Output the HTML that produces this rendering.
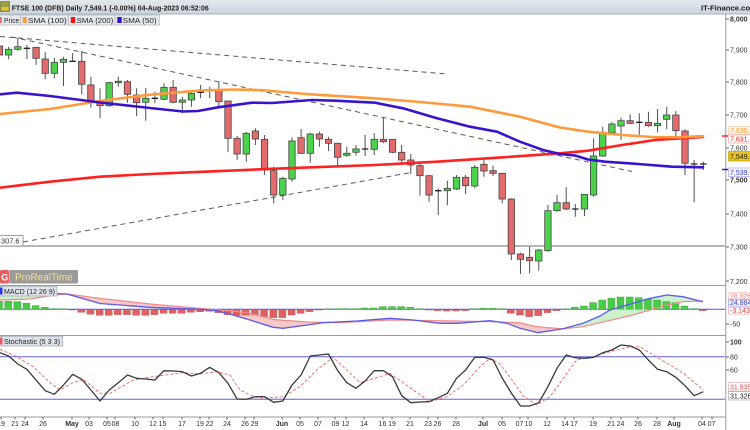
<!DOCTYPE html>
<html><head><meta charset="utf-8"><style>
html,body{margin:0;padding:0;background:#fff}
svg{display:block}
text{font-family:"Liberation Sans",sans-serif}
</style></head><body>
<svg width="750" height="430" viewBox="0 0 750 430" xmlns="http://www.w3.org/2000/svg">
<defs>
<linearGradient id="hg" x1="0" y1="0" x2="0" y2="1"><stop offset="0" stop-color="#e3e8ed"/><stop offset="1" stop-color="#cdd5dd"/></linearGradient>
<clipPath id="plot"><rect x="0" y="14" width="725.5" height="403"/></clipPath>
</defs>
<rect width="750" height="430" fill="#fff"/>

<!-- header -->
<rect x="0" y="0" width="750" height="14" fill="url(#hg)"/>
<line x1="0" y1="14" x2="750" y2="14" stroke="#a9b2bb" stroke-width="1"/>
<rect x="0.5" y="1.5" width="9" height="10" fill="#9aa040" stroke="#6a6a20" stroke-width="0.6"/>
<rect x="1.5" y="7" width="7" height="3.5" fill="#e8c030"/>
<text x="11.7" y="10.3" font-size="7.6" font-weight="bold" fill="#1c1c1c" textLength="197" lengthAdjust="spacingAndGlyphs">FTSE 100 (DFB) Daily 7,549.1 (-0.00%) 04-Aug-2023 06:52:06</text>
<text x="701" y="10.3" font-size="7.6" font-weight="bold" fill="#1c1c1c" textLength="56" lengthAdjust="spacingAndGlyphs">IT-Finance.com</text>

<!-- legend -->
<g stroke="#b4bcc4" stroke-width="0.8" fill="#e6eaee">
<rect x="-2" y="15" width="22.7" height="10"/>
<rect x="20.7" y="15" width="47.6" height="10"/>
<rect x="68.3" y="15" width="46.7" height="10"/>
<rect x="115" y="15" width="44.3" height="10"/>
</g>
<rect x="-2" y="17" width="3.7" height="6" fill="#e36b6b"/>
<rect x="22.7" y="17" width="4" height="6" fill="#ff9933"/>
<rect x="70.8" y="17" width="4.3" height="6" fill="#ff1010"/>
<rect x="117.3" y="17" width="4.4" height="6" fill="#3311cc"/>
<g font-size="7.6" fill="#222">
<text x="4" y="22.8" textLength="15.3" lengthAdjust="spacingAndGlyphs">Price</text>
<text x="28" y="22.8" textLength="38.7" lengthAdjust="spacingAndGlyphs">SMA (100)</text>
<text x="76.7" y="22.8" textLength="36.6" lengthAdjust="spacingAndGlyphs">SMA (200)</text>
<text x="122.7" y="22.8" textLength="34" lengthAdjust="spacingAndGlyphs">SMA (50)</text>
</g>

<g clip-path="url(#plot)">
<!-- support line -->
<line x1="0" y1="246" x2="725" y2="246" stroke="#8a8a8a" stroke-width="1.2"/>
<rect x="-1" y="235.5" width="24" height="10.5" fill="#fff" stroke="#888" stroke-width="0.8"/>
<text x="1" y="243.6" font-size="7.4" fill="#333">307.6</text>

<!-- dashed trend lines -->
<g stroke="#5a5a5a" stroke-width="1" stroke-dasharray="5,4" fill="none">
<line x1="0" y1="36.5" x2="447" y2="74"/>
<line x1="12" y1="37" x2="632" y2="171.5"/>
<line x1="23" y1="242" x2="412" y2="172.4"/>
</g>

<!-- wicks -->
<path fill="none" stroke="#505050" stroke-width="1" d="M-0.5 43V58 M8.64 46.7V59.3 M17.78 38.3V50.7 M26.92 45V59.3 M36.06 47.3V65 M45.2 52.3V79.3 M54.34 57.7V78.3 M63.48 56.7V86 M72.62 53.3V62 M81.76 51V94.3 M90.9 76.7V107.7 M100.04 88.3V118.3 M109.18 81.7V106.7 M118.32 76.7V86.7 M127.46 80V102.7 M136.6 88.3V116 M145.74 87.7V120.7 M154.88 91.7V103.3 M164.02 83.3V100 M173.16 80V103.3 M182.3 96.7V113.3 M191.44 90V106.7 M200.58 85V98.3 M209.72 86.7V98.3 M218.86 81.7V106.7 M228 101V151.7 M237.14 136V160 M246.28 131.7V161.7 M255.42 128.3V145 M264.56 135V175 M273.7 166.7V203.3 M282.84 176.7V200 M291.98 137.3V181.7 M301.12 129V154 M310.26 132.7V162.7 M319.4 131.7V146.7 M328.54 136.7V151 M337.68 142.7V166 M346.82 146.7V156.7 M355.96 145V155.7 M365.1 135V156 M374.24 133.3V155 M383.38 117.3V143.3 M392.52 139.3V153.3 M401.66 145V162.7 M410.8 154V174 M419.94 164V195.7 M429.08 175V201.7 M438.22 188.3V215 M447.36 180.7V205 M456.5 175V190 M465.64 175V194.3 M474.78 165V188.3 M483.92 160V176.7 M493.06 165.7V176 M502.2 172.7V203.3 M511.34 198.3V260 M520.48 252.7V274 M529.62 246.7V273.3 M538.76 249.3V270.7 M547.9 205V251.7 M557.04 195V211.7 M566.18 187.3V210 M575.32 204V216.7 M584.46 194V216 M593.6 138.3V196.7 M602.74 126.7V156.7 M611.88 122.3V134.3 M621.02 117.7V140 M630.16 114.3V124.3 M639.3 113.3V136 M648.44 111.7V126.7 M657.58 109V132.3 M666.72 106.7V129.3 M675.86 111V136.7 M685 129.3V175 M694.14 160V202.3 M703.28 161.7V170"/>

<!-- red bodies -->
<g fill="#e36b6b" stroke="#444" stroke-width="0.8">
<rect x="-3.7" y="46" width="6.4" height="9"/>
<rect x="32.86" y="47.3" width="6.4" height="11"/>
<rect x="42" y="59" width="6.4" height="14.3"/>
<rect x="78.56" y="61.3" width="6.4" height="23"/>
<rect x="87.7" y="85" width="6.4" height="16"/>
<rect x="96.84" y="100.7" width="6.4" height="5"/>
<rect x="124.26" y="81.7" width="6.4" height="12.6"/>
<rect x="133.4" y="95" width="6.4" height="7.7"/>
<rect x="169.96" y="87.3" width="6.4" height="15"/>
<rect x="215.66" y="90" width="6.4" height="11.7"/>
<rect x="224.8" y="101" width="6.4" height="37.3"/>
<rect x="233.94" y="138.3" width="6.4" height="15.7"/>
<rect x="252.22" y="131" width="6.4" height="8"/>
<rect x="261.36" y="139.3" width="6.4" height="30.7"/>
<rect x="270.5" y="170.7" width="6.4" height="24.3"/>
<rect x="297.92" y="137.7" width="6.4" height="15.6"/>
<rect x="316.2" y="134" width="6.4" height="5"/>
<rect x="325.34" y="139.3" width="6.4" height="4"/>
<rect x="334.48" y="143.3" width="6.4" height="14"/>
<rect x="380.18" y="139.3" width="6.4" height="2.4"/>
<rect x="389.32" y="139.3" width="6.4" height="13"/>
<rect x="398.46" y="152.3" width="6.4" height="7.7"/>
<rect x="407.6" y="160" width="6.4" height="5"/>
<rect x="416.74" y="165.7" width="6.4" height="10"/>
<rect x="425.88" y="175.7" width="6.4" height="19.3"/>
<rect x="462.44" y="177.3" width="6.4" height="8.4"/>
<rect x="480.72" y="164.3" width="6.4" height="6.7"/>
<rect x="489.86" y="170.7" width="6.4" height="2.6"/>
<rect x="499" y="173.3" width="6.4" height="25.7"/>
<rect x="508.14" y="199" width="6.4" height="55"/>
<rect x="517.28" y="254" width="6.4" height="5.3"/>
<rect x="526.42" y="257.3" width="6.4" height="3.4"/>
<rect x="562.98" y="202.7" width="6.4" height="6.3"/>
<rect x="626.96" y="120.7" width="6.4" height="2.6"/>
<rect x="645.24" y="122.3" width="6.4" height="3.4"/>
<rect x="672.66" y="115" width="6.4" height="15.7"/>
<rect x="681.8" y="131" width="6.4" height="32.3"/>
</g>
<!-- green bodies -->
<g fill="#4dd24d" stroke="#444" stroke-width="0.8">
<rect x="5.44" y="49.3" width="6.4" height="5.7"/>
<rect x="14.58" y="46.7" width="6.4" height="2.6"/>
<rect x="51.14" y="62.3" width="6.4" height="11"/>
<rect x="60.28" y="59.3" width="6.4" height="3"/>
<rect x="105.98" y="82.7" width="6.4" height="23"/>
<rect x="115.12" y="81.2" width="6.4" height="1.5"/>
<rect x="142.54" y="98.3" width="6.4" height="4"/>
<rect x="160.82" y="87.3" width="6.4" height="12"/>
<rect x="179.1" y="100" width="6.4" height="2.3"/>
<rect x="188.24" y="93.3" width="6.4" height="6.7"/>
<rect x="243.08" y="133.3" width="6.4" height="20.7"/>
<rect x="279.64" y="178.3" width="6.4" height="16.7"/>
<rect x="288.78" y="141" width="6.4" height="38"/>
<rect x="307.06" y="134" width="6.4" height="19.3"/>
<rect x="343.62" y="153.3" width="6.4" height="2"/>
<rect x="352.76" y="149" width="6.4" height="3.3"/>
<rect x="371.04" y="139.3" width="6.4" height="10"/>
<rect x="444.16" y="188.3" width="6.4" height="2.4"/>
<rect x="453.3" y="177.3" width="6.4" height="11.7"/>
<rect x="471.58" y="167.3" width="6.4" height="18.7"/>
<rect x="535.56" y="250" width="6.4" height="11"/>
<rect x="544.7" y="210.7" width="6.4" height="40"/>
<rect x="553.84" y="202.7" width="6.4" height="8"/>
<rect x="581.26" y="194.3" width="6.4" height="14.7"/>
<rect x="590.4" y="156" width="6.4" height="39"/>
<rect x="599.54" y="132.3" width="6.4" height="23.7"/>
<rect x="608.68" y="124" width="6.4" height="8.7"/>
<rect x="617.82" y="120.7" width="6.4" height="5.3"/>
<rect x="654.38" y="123.3" width="6.4" height="2.4"/>
<rect x="663.52" y="115" width="6.4" height="4.3"/>
</g>
<!-- dojis -->
<path fill="none" stroke="#222" stroke-width="1.3" d="M23.72 48.3H30.12 M69.42 61.3H75.82 M151.68 98.3H158.08 M197.38 92.3H203.78 M206.52 90.7H212.92 M361.9 149H368.3 M435.02 190.7H441.42 M572.12 209H578.52 M636.1 122.3H642.5 M690.94 164H697.34 M700.08 164H706.48"/>

<!-- SMAs -->
<g fill="none" stroke-width="2.6" stroke-linejoin="round" stroke-linecap="round">
<polyline stroke="#ff2020" points="0,187.7 50,181.7 100,176.7 150,174 190,172.3 285,168.3 375,165 437,161.7 503,157.3 560,153.3 588,150.7 622,145 655,140 703,137"/>
<polyline stroke="#ff9a3c" points="0,114 50,109 100,101 150,94.7 200,90.5 235,89.5 260,90 300,93.5 318,94.8 375,98.3 420,102 470,106.7 520,116.7 560,127.5 588,131.7 622,135 655,137.2 680,137.2 703,136.2"/>
<polyline stroke="#3a14cc" points="0,94.3 17,92.7 50,96 100,102.5 150,108 183,111.5 198,111 218,107.3 252,102.7 272,103 312,100 335,100.7 375,102.7 403,108.3 437,118.3 470,126.7 497,131.7 520,141.7 543,150 560,154 575,155.5 588,159.5 605,161.7 638,164 672,166.7 703,167.3"/>
</g>

<!-- ProRealTime logo -->
<rect x="0" y="270" width="9" height="13.5" rx="1.5" fill="#e26060"/>
<text x="1.2" y="280.5" font-size="9" font-weight="bold" fill="#fff">G</text>
<rect x="9.3" y="270" width="68.7" height="13.5" rx="1.5" fill="#8f8f8f" fill-opacity="0.9"/>
<text x="15" y="280.5" font-size="10" fill="#f3e48c" textLength="57.7" lengthAdjust="spacingAndGlyphs">ProRealTime</text>

<!-- MACD panel -->
<line x1="0" y1="309.3" x2="725" y2="309.3" stroke="#5050e0" stroke-width="1"/>
<polygon fill="#c8f0c8" fill-opacity="0.9" points="0,292 30,292.5 55,293.5 67,294 55,295 30,299 0,300"/>
<polygon fill="#f6c2c2" fill-opacity="0.9" points="67,294 100,303.5 150,307.3 200,309.3 217,310.7 233,315 250,320 273,327.3 283,328.3 307,325 323,322.7 357,321 390,318.3 413,320 440,323.3 457,323.3 490,320.7 507,323.3 520,328.3 538,332.7 563,328.8 545,327.5 533,326 520,322.7 490,321.7 440,320.7 390,320 340,322.7 307,322 273,319.5 250,313.3 233,311 200,308.3 150,304 100,298.3"/>
<polygon fill="#c8f0c8" fill-opacity="0.9" points="563,328.8 583,323.3 600,316 610,310 633,303.3 650,298.3 667,295 683,296.7 703,301.7 703,301 683,301.7 667,305 650,310 633,315 600,322.7 583,326.7"/>
<g fill="#48cc48" stroke="#3a9a3a" stroke-width="0.4">
<rect x="-4.5" y="301.3" width="7" height="8"/>
<rect x="4.64" y="301.3" width="7" height="8"/>
<rect x="13.78" y="301.6" width="7" height="7.7"/>
<rect x="22.92" y="303.3" width="7" height="6"/>
<rect x="32.06" y="305.6" width="7" height="3.7"/>
<rect x="41.2" y="307.3" width="7" height="2"/>
<rect x="50.34" y="308.6" width="7" height="0.7"/>
<rect x="59.48" y="308.8" width="7" height="0.5"/>
<rect x="324.54" y="308.8" width="7" height="0.5"/>
<rect x="333.68" y="308.6" width="7" height="0.7"/>
<rect x="342.82" y="308.6" width="7" height="0.7"/>
<rect x="351.96" y="308.6" width="7" height="0.7"/>
<rect x="361.1" y="308" width="7" height="1.3"/>
<rect x="370.24" y="308" width="7" height="1.3"/>
<rect x="379.38" y="306.6" width="7" height="2.7"/>
<rect x="388.52" y="306.6" width="7" height="2.7"/>
<rect x="397.66" y="306.6" width="7" height="2.7"/>
<rect x="406.8" y="307.3" width="7" height="2"/>
<rect x="415.94" y="308.6" width="7" height="0.7"/>
<rect x="470.78" y="308.6" width="7" height="0.7"/>
<rect x="479.92" y="308.3" width="7" height="1"/>
<rect x="489.06" y="308.3" width="7" height="1"/>
<rect x="498.2" y="308.6" width="7" height="0.7"/>
<rect x="562.18" y="308.8" width="7" height="0.5"/>
<rect x="571.32" y="307.3" width="7" height="2"/>
<rect x="580.46" y="306" width="7" height="3.3"/>
<rect x="589.6" y="302.6" width="7" height="6.7"/>
<rect x="598.74" y="300" width="7" height="9.3"/>
<rect x="607.88" y="298.3" width="7" height="11"/>
<rect x="617.02" y="297" width="7" height="12.3"/>
<rect x="626.16" y="297" width="7" height="12.3"/>
<rect x="635.3" y="297.6" width="7" height="11.7"/>
<rect x="644.44" y="299" width="7" height="10.3"/>
<rect x="653.58" y="300" width="7" height="9.3"/>
<rect x="662.72" y="301.6" width="7" height="7.7"/>
<rect x="671.86" y="302.6" width="7" height="6.7"/>
<rect x="681" y="306" width="7" height="3.3"/>
<rect x="690.14" y="308.6" width="7" height="0.7"/>
</g>
<g fill="#e06060" stroke="#b04848" stroke-width="0.4">
<rect x="68.62" y="309.3" width="7" height="0.7"/>
<rect x="77.76" y="309.3" width="7" height="3"/>
<rect x="86.9" y="309.3" width="7" height="5"/>
<rect x="96.04" y="309.3" width="7" height="6"/>
<rect x="105.18" y="309.3" width="7" height="6"/>
<rect x="114.32" y="309.3" width="7" height="5.3"/>
<rect x="123.46" y="309.3" width="7" height="5.3"/>
<rect x="132.6" y="309.3" width="7" height="6"/>
<rect x="141.74" y="309.3" width="7" height="6"/>
<rect x="150.88" y="309.3" width="7" height="5.3"/>
<rect x="160.02" y="309.3" width="7" height="4"/>
<rect x="169.16" y="309.3" width="7" height="4"/>
<rect x="178.3" y="309.3" width="7" height="4"/>
<rect x="187.44" y="309.3" width="7" height="3"/>
<rect x="196.58" y="309.3" width="7" height="2.4"/>
<rect x="205.72" y="309.3" width="7" height="2"/>
<rect x="214.86" y="309.3" width="7" height="3.3"/>
<rect x="224" y="309.3" width="7" height="5.3"/>
<rect x="233.14" y="309.3" width="7" height="6"/>
<rect x="242.28" y="309.3" width="7" height="5.7"/>
<rect x="251.42" y="309.3" width="7" height="5.7"/>
<rect x="260.56" y="309.3" width="7" height="7.3"/>
<rect x="269.7" y="309.3" width="7" height="8.3"/>
<rect x="278.84" y="309.3" width="7" height="8.3"/>
<rect x="287.98" y="309.3" width="7" height="5.7"/>
<rect x="297.12" y="309.3" width="7" height="4"/>
<rect x="306.26" y="309.3" width="7" height="2.3"/>
<rect x="315.4" y="309.3" width="7" height="0.7"/>
<rect x="425.08" y="309.3" width="7" height="0.7"/>
<rect x="434.22" y="309.3" width="7" height="1.3"/>
<rect x="443.36" y="309.3" width="7" height="1.7"/>
<rect x="452.5" y="309.3" width="7" height="1.7"/>
<rect x="461.64" y="309.3" width="7" height="1.3"/>
<rect x="507.34" y="309.3" width="7" height="4"/>
<rect x="516.48" y="309.3" width="7" height="5.7"/>
<rect x="525.62" y="309.3" width="7" height="7.3"/>
<rect x="534.76" y="309.3" width="7" height="6.3"/>
<rect x="543.9" y="309.3" width="7" height="3.3"/>
<rect x="553.04" y="309.3" width="7" height="1.3"/>
<rect x="699.28" y="309.3" width="7" height="1.3"/>
</g>
<polyline fill="none" stroke="#f08a8a" stroke-width="1.2" points="0,300 30,299 55,295 67,294 100,298.3 150,304 200,308.3 233,311 250,313.3 273,319.5 307,322 340,322.7 390,320 440,320.7 490,321.7 520,322.7 533,326 545,327.5 563,328.8 583,326.7 600,322.7 633,315 650,310 667,305 683,301.7 703,301"/>
<polyline fill="none" stroke="#5a5af0" stroke-width="1.3" points="0,292 30,292.5 55,293.5 67,294 100,303.5 150,307.3 200,309.3 217,310.7 233,315 250,320 273,327.3 283,328.3 307,325 323,322.7 357,321 390,318.3 413,320 440,323.3 457,323.3 490,320.7 507,323.3 520,328.3 538,332.7 563,328.8 583,323.3 600,316 610,310 633,303.3 650,298.3 667,295 683,296.7 703,301.7"/>

<!-- Stochastic panel -->
<line x1="0" y1="356.8" x2="725" y2="356.8" stroke="#6060e0" stroke-width="1"/>
<line x1="0" y1="399.2" x2="725" y2="399.2" stroke="#6060e0" stroke-width="1"/>
<polyline fill="none" stroke="#f07070" stroke-width="1" stroke-dasharray="3,2" points="0,349.3 16.7,356.7 33.3,366.7 50,382.7 60,390 71.7,383.3 83.3,379.3 100,393.3 110,393.3 133.3,380 153.3,376.7 183.3,372.7 200,374 216.7,371.7 230,375 240,390 250,395 260,398.3 283.3,396.7 300,386.7 316.7,370 333.3,357.3 346.7,370 360,382.7 380,376.7 390,373.3 413.3,390 430,401.7 446.7,396.7 463.3,385 480,366.7 490,358.3 500,364 512,380 523.3,396 536.7,405 550,396.7 563.3,378.3 576.7,360 593.3,356.7 610,351.7 630,346.7 640,346.7 653.3,355 670,365 683.3,373.3 703.3,390"/>
<polyline fill="none" stroke="#3a3a3a" stroke-width="1.3" stroke-linejoin="round" points="0,352.7 8.6,356 17.8,364 26.9,369.3 36,380 45.2,390.7 54.3,394.3 63.5,385 72.6,374.3 81.8,379.3 90.9,390 100,401 109.2,390 118.3,382.7 127.5,375 136.6,378.3 145.7,379 154.9,380 164,370.7 173.2,371 182.3,371.7 191.4,376 200.6,373.3 209.7,367.3 218.9,372.7 228,383.3 237.1,399 246.3,399.3 255.4,396.7 264.6,396.7 273.7,402.3 282.8,401 292,385 301.1,375 310.3,356 319.4,355 328.5,354 337.7,370.7 346.8,382.7 356,388.3 365.1,381 374.2,370.7 383.4,370.7 392.5,376.7 401.7,395.7 410.8,402.7 419.9,402 429.1,401.7 438.2,397.7 447.4,393.3 456.5,378.3 465.6,370 474.8,357.3 483.9,357.3 493.1,360 502.2,378 511.3,393 520.5,406 529.6,406 538.8,402.7 547.9,386.7 557,368.3 566.2,355 575.3,357.7 584.5,358.3 593.6,357.3 602.7,352.7 611.9,350 621,345 630.2,346 639.3,350 648.4,360 657.6,369.3 666.7,371.7 675.9,377.3 685,385.7 694.1,395.7 703.3,391.7"/>
</g>

<!-- panel borders -->
<g stroke="#9a9a9a" stroke-width="1">
<line x1="0" y1="285.5" x2="726" y2="285.5"/>
<line x1="0" y1="335.5" x2="726" y2="335.5"/>
<line x1="0" y1="417" x2="726" y2="417"/>
<line x1="725.8" y1="14" x2="725.8" y2="430"/>
</g>

<!-- panel labels -->
<rect x="-1" y="286.3" width="58" height="9.7" fill="#dfe4ea" stroke="#a8b0ba" stroke-width="0.8"/>
<rect x="-1" y="287.5" width="3.5" height="7" fill="#3333dd"/>
<text x="4" y="294" font-size="7.4" fill="#222" textLength="51" lengthAdjust="spacingAndGlyphs">MACD (12 26 9)</text>
<rect x="-1" y="336.3" width="63.7" height="9.7" fill="#dfe4ea" stroke="#a8b0ba" stroke-width="0.8"/>
<rect x="-1" y="337.5" width="3.5" height="7" fill="#e36060"/>
<text x="4" y="344" font-size="7.4" fill="#222" textLength="56" lengthAdjust="spacingAndGlyphs">Stochastic (5 3 3)</text>

<!-- right axis ticks -->
<path stroke="#666" stroke-width="1" d="M726 19H729 M726 50H729 M726 82H729 M726 115H729 M726 148H729 M726 180H729 M726 214H729 M726 247H729 M726 281H729 M726 324H729 M726 342H729 M726 357H729 M726 370H729"/>
<g font-size="7" fill="#333">
<text x="730" y="21.5" font-weight="bold">8,000</text>
<text x="730" y="52.5">7,900</text>
<text x="730" y="84.5">7,800</text>
<text x="730" y="117.5">7,700</text>
<text x="730" y="150.5">7,600</text>
<text x="730" y="182.5" font-weight="bold">7,500</text>
<text x="730" y="216.5">7,400</text>
<text x="730" y="249.5">7,300</text>
<text x="730" y="284">7,200</text>
<text x="730" y="326.5">-50</text>
<text x="730" y="344.5" font-weight="bold">100</text>
<text x="730" y="359.5">80</text>
<text x="730" y="372.5">60</text>
</g>
<!-- value boxes -->
<line x1="722" y1="136" x2="728" y2="136" stroke="#ff2020" stroke-width="1.5"/>
<line x1="722" y1="169.5" x2="728" y2="169.5" stroke="#3a14cc" stroke-width="1.5"/>
<g font-size="7">
<rect x="728.5" y="126.5" width="23" height="8" fill="#fff6ec" stroke="#e8c8a8" stroke-width="0.7"/>
<text x="730" y="133.2" fill="#ff9a3a">7,635.3</text>
<rect x="728.5" y="135" width="23" height="8" fill="#fff" stroke="#e8a8a8" stroke-width="0.7"/>
<text x="730" y="141.7" fill="#ee2b2b">7,631.7</text>
<rect x="728.5" y="151.5" width="23" height="9.5" fill="#e9c31c" stroke="#c0a000" stroke-width="0.7"/>
<text x="730" y="158.9" fill="#222">7,549.1</text>
<rect x="728.5" y="168" width="23" height="8.7" fill="#f6f6ff" stroke="#a8a8f0" stroke-width="0.7"/>
<text x="730" y="175" fill="#3a3ad8">7,539.1</text>
<rect x="728.5" y="292.5" width="23" height="6.8" fill="#fff" stroke="#f0b8b8" stroke-width="0.6"/>
<text x="730" y="298.5" fill="#f08080">28.026</text>
<rect x="728.5" y="299.3" width="23" height="6.8" fill="#f4f4ff" stroke="#9090e0" stroke-width="0.6"/>
<text x="730" y="305.2" fill="#4040d0">24.884</text>
<rect x="728.5" y="307.3" width="23" height="6.8" fill="#fff" stroke="#d8a8a8" stroke-width="0.6"/>
<text x="730" y="313.2" fill="#e04040">-3.143</text>
<rect x="728.5" y="382.5" width="23" height="8.5" fill="#fff" stroke="#d0a8a8" stroke-width="0.6"/>
<text x="730" y="389.4" fill="#e05050">31.535</text>
<rect x="728.5" y="391.5" width="23" height="8.5" fill="#fff" stroke="#999" stroke-width="0.6"/>
<text x="730" y="398.4" fill="#222">31.326</text>
</g>

<!-- x axis -->
<path stroke="#666" stroke-width="1" d="M1 417V419.5 M15 417V419.5 M25 417V419.5 M43 417V419.5 M72 417V419.5 M89 417V419.5 M107 417V419.5 M115 417V419.5 M135 417V419.5 M153 417V419.5 M163 417V419.5 M182 417V419.5 M200 417V419.5 M209 417V419.5 M227 417V419.5 M245 417V419.5 M254 417V419.5 M282 417V419.5 M300 417V419.5 M318 417V419.5 M335 417V419.5 M346 417V419.5 M364 417V419.5 M383 417V419.5 M392 417V419.5 M410 417V419.5 M428 417V419.5 M438 417V419.5 M456 417V419.5 M483 417V419.5 M502 417V419.5 M520 417V419.5 M528 417V419.5 M547 417V419.5 M565 417V419.5 M574 417V419.5 M593 417V419.5 M611 417V419.5 M621 417V419.5 M638 417V419.5 M657 417V419.5 M674 417V419.5 M702 417V419.5 M712 417V419.5"/>
<g font-size="7" fill="#333" text-anchor="middle">
<text x="1" y="426">19</text><text x="15" y="426">21</text><text x="25" y="426">24</text><text x="43" y="426">26</text>
<text x="72" y="426" font-weight="bold">May</text>
<text x="89" y="426">03</text><text x="107" y="426">05</text><text x="115.5" y="426">08</text><text x="135" y="426">10</text>
<text x="153" y="426">12</text><text x="162.5" y="426">15</text><text x="182" y="426">17</text><text x="200" y="426">19</text>
<text x="209.5" y="426">22</text><text x="227" y="426">24</text><text x="245" y="426">26</text><text x="254.5" y="426">29</text>
<text x="282" y="426" font-weight="bold">Jun</text>
<text x="300" y="426">05</text><text x="318" y="426">07</text><text x="335.5" y="426">09</text><text x="345.5" y="426">12</text>
<text x="364" y="426">14</text><text x="382.5" y="426">16</text><text x="392" y="426">19</text><text x="410" y="426">21</text>
<text x="428" y="426">23</text><text x="437.5" y="426">26</text><text x="456" y="426">28</text>
<text x="483" y="426" font-weight="bold">Jul</text>
<text x="502" y="426">05</text><text x="519.5" y="426">07</text><text x="528.5" y="426">10</text><text x="547" y="426">12</text>
<text x="565" y="426">14</text><text x="574" y="426">17</text><text x="593" y="426">19</text><text x="611" y="426">21</text>
<text x="620.5" y="426">24</text><text x="638" y="426">26</text><text x="657" y="426">28</text>
<text x="674" y="426" font-weight="bold">Aug</text>
<text x="702" y="426">04</text><text x="711.5" y="426">07</text>
</g>
</svg>
</body></html>
